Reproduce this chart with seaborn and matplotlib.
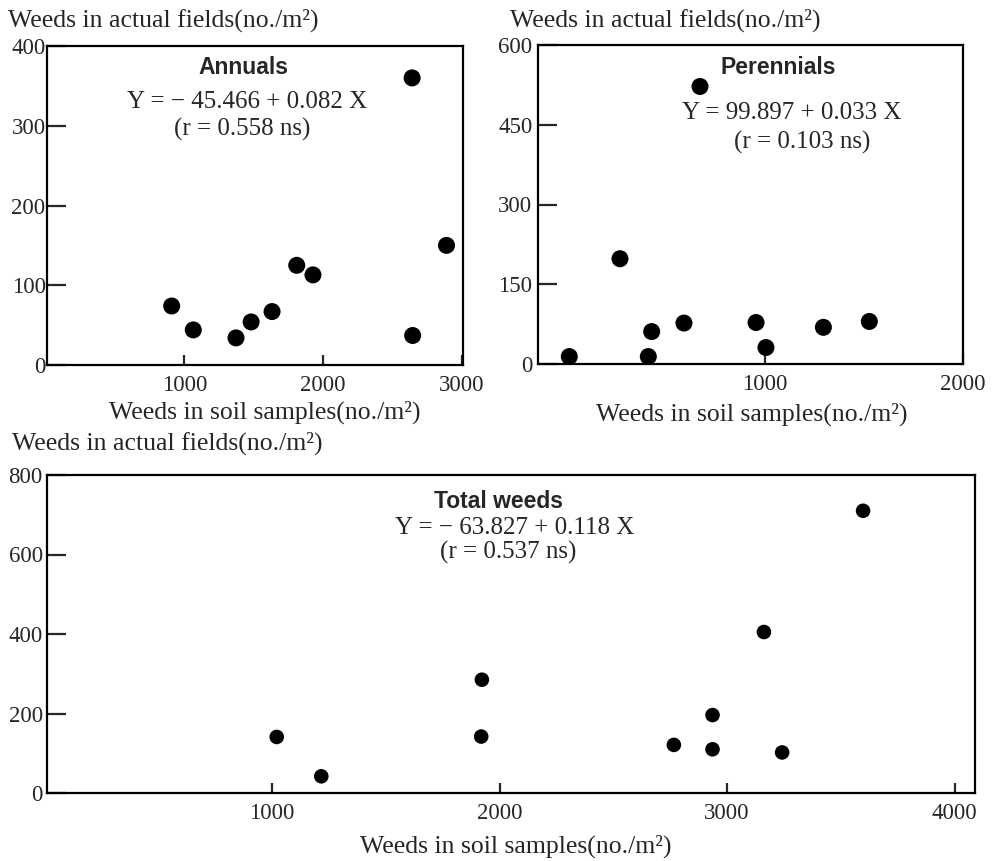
import pandas as pd
import matplotlib.pyplot as plt
import seaborn as sns

# values
annual_x = [909, 1065, 1373, 1482, 1633, 1811, 1928, 2643, 2647, 2891]
annual_y = [74, 44, 34, 54, 67, 125, 113, 360, 37, 150]

perennial_x = [12, 268, 411, 428, 591, 672, 955, 1005, 1295, 1527]
perennial_y = [14, 198, 14, 61, 77, 522, 78, 31, 69, 80]

total_x = [1020, 1216, 1922, 1919, 2766, 2936, 2936, 3162, 3242, 3598]
total_y = [141, 42, 285, 142, 121, 196, 110, 405, 102, 710]

ylabel = 'Weeds in actual fields(no./m²)'
xlabel = 'Weeds in soil samples(no./m²)'

sns.set_style('white')
plt.rcParams['font.family'] = ['Liberation Serif', 'DejaVu Serif']

W, H = 993, 861
fig = plt.figure(figsize=(W / 100, H / 100), dpi=100)


def box(l, t, r, b):
    # pixel box -> figure fraction
    return [l / W, 1 - b / H, (r - l) / W, (b - t) / H]


def px_text(x, y, s, **kw):
    fig.text(x / W, 1 - y / H, s, **kw)


def style_axes(ax, xlim, ylim, xticks, yticks, ypad):
    ax.set_xlim(*xlim)
    ax.set_ylim(*ylim)
    ax.set_xticks(xticks)
    ax.set_yticks(yticks)
    ax.set_xlabel('')
    ax.set_ylabel('')
    for sp in ax.spines.values():
        sp.set_visible(True)
        sp.set_linewidth(1.6)
        sp.set_color('black')
    ax.tick_params(axis='y', direction='in', length=14, width=1.6,
                   labelsize=16.5, pad=ypad, left=True)
    ax.tick_params(axis='x', direction='in', length=7, width=1.6,
                   labelsize=16.5, pad=7, bottom=True)


# Annuals
ax1 = fig.add_axes(box(47, 46, 463, 365))
df1 = pd.DataFrame({'x': annual_x, 'y': annual_y})
sns.scatterplot(data=df1, x='x', y='y', ax=ax1, color='black', s=150,
                edgecolor='none', clip_on=False)
style_axes(ax1, (10, 3010), (0, 400), [1000, 2000, 3000],
           [0, 100, 200, 300, 400], 1)

# Perennials
ax2 = fig.add_axes(box(538, 45, 963, 364))
df2 = pd.DataFrame({'x': perennial_x, 'y': perennial_y})
sns.scatterplot(data=df2, x='x', y='y', ax=ax2, color='black', s=150,
                edgecolor='none', clip_on=False)
style_axes(ax2, (-146, 2000), (0, 600), [1000, 2000],
           [0, 150, 300, 450, 600], 4)

# Total weeds
ax3 = fig.add_axes(box(47, 475, 975, 793))
df3 = pd.DataFrame({'x': total_x, 'y': total_y})
sns.scatterplot(data=df3, x='x', y='y', ax=ax3, color='black', s=110,
                edgecolor='none', clip_on=False)
style_axes(ax3, (10, 4090), (0, 800), [1000, 2000, 3000, 4000],
           [0, 200, 400, 600, 800], 3)

# axis titles
lab = dict(fontsize=18.5, va='center')
px_text(8, 20, ylabel, ha='left', **lab)
px_text(510, 20, ylabel, ha='left', **lab)
px_text(12, 443, ylabel, ha='left', **lab)
px_text(265, 412, xlabel, ha='center', **lab)
px_text(752, 414, xlabel, ha='center', **lab)
px_text(516, 846, xlabel, ha='center', **lab)

# panel annotations
sans = dict(family='Liberation Sans', fontweight='bold', fontsize=16.5,
            ha='center', va='center')
txt = dict(fontsize=18, ha='center', va='center')

px_text(243, 68, 'Annuals', **sans)
px_text(247, 102, 'Y = − 45.466 + 0.082 X', **txt)
px_text(242, 129, '(r = 0.558 ns)', **txt)

px_text(778, 68, 'Perennials', **sans)
px_text(792, 113, 'Y = 99.897 + 0.033 X', **txt)
px_text(802, 142, '(r = 0.103 ns)', **txt)

px_text(499, 502, 'Total weeds', **sans)
px_text(515, 528, 'Y = − 63.827 + 0.118 X', **txt)
px_text(508, 552, '(r = 0.537 ns)', **txt)

plt.savefig('out.png', dpi=100)
